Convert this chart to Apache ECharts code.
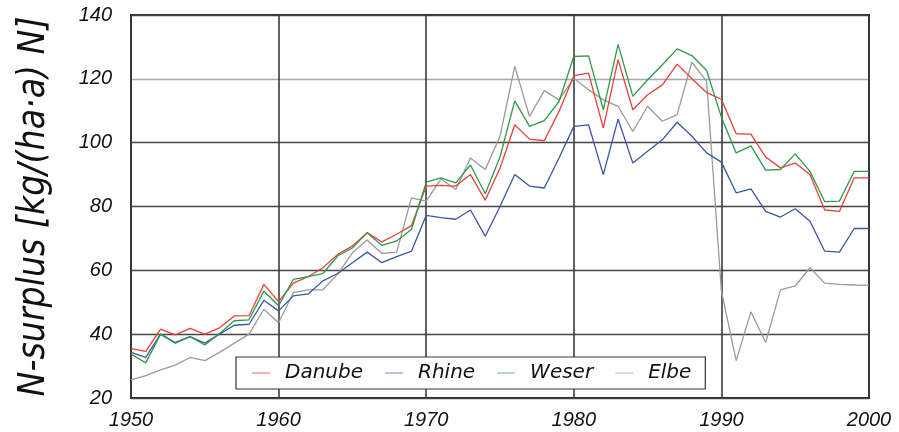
<!DOCTYPE html>
<html>
<head>
<meta charset="utf-8">
<script src="https://cdn.jsdelivr.net/npm/echarts@6/dist/echarts.min.js"></script>
<style>
html,body{margin:0;padding:0;background:#fff;}
#chart{width:899px;height:432px;}
</style>
</head>
<body>
<div id="chart"></div>
<script>
const years = [1950,1951,1952,1953,1954,1955,1956,1957,1958,1959,
  1960,1961,1962,1963,1964,1965,1966,1967,1968,1969,
  1970,1971,1972,1973,1974,1975,1976,1977,1978,1979,
  1980,1981,1982,1983,1984,1985,1986,1987,1988,1989,
  1990,1991,1992,1993,1994,1995,1996,1997,1998,1999,2000];

const danube = [35.5,34.6,41.6,39.8,41.8,40,42,45.7,45.8,55.6,
  50.2,56,58,60.8,65,67.6,71.8,68.9,71.3,74,
  86.4,86.6,86.4,90,82,92,105.6,101.1,100.6,109.8,
  121,121.8,104.6,126,110.3,115,118.1,124.6,120,115.7,
  113.6,102.8,102.7,95.5,92.1,93.6,90,78.9,78.5,89,89];

const rhine = [34.3,32.7,40,37.2,39.2,37.2,40,42.8,43.1,50.6,
  47.3,52,52.6,56.7,59,62.4,65.7,62.4,64.3,66,
  77.2,76.5,76,78.9,70.7,80,90,86.4,85.8,95.2,
  105.1,105.6,90,107.4,93.6,97.3,100.9,106.4,102,96.8,
  93.9,84.3,85.5,78.5,76.7,79.3,75.4,66,65.7,73.1,73.1];

const weser = [33.8,31,40,37.4,39.2,36.6,40.2,44.2,44.5,53.5,
  48.9,57.2,58,59,64.5,67,71.8,67.8,69.2,72.8,
  87.6,89,87.4,93,84,95.5,113.1,105.1,106.9,112.9,
  127,127.2,110.3,130.8,114.5,119.7,124.4,129.4,127.3,122.6,
  108,96.8,99,91.4,91.6,96.5,91,81.5,81.7,91,91];

const elbe = [25.7,27,28.8,30.3,32.7,31.7,34.3,37.2,40,47.8,
  43.6,53,53.9,53.9,58.8,65.5,69.5,65.3,65.7,82.7,
  81.7,88.6,85.3,95.2,91.6,102,123.9,108.2,116.3,113.4,
  120.2,116.6,113.4,111.4,103.5,111.4,106.7,108.8,125.2,119.2,
  53.5,31.7,47,37.4,53.9,55.1,60.8,56,55.6,55.4,55.3];

const seriesNames = ['Danube','Rhine','Weser','Elbe'];
const seriesColors = ['#e8413c','#3a56a5','#2e9a48','#9a9a9a'];
const legendColors = ['#f19a98','#a3afd6','#97cda3','#cfcfcf'];
const seriesData = [danube, rhine, weser, elbe];

const chart = echarts.init(document.getElementById('chart'), null, {renderer:'canvas'});
const labelFont = {fontFamily:'Liberation Sans, Arial, sans-serif', fontStyle:'italic', fontSize:20, color:'#111'};

chart.setOption({
  animation:false,
  backgroundColor:'#fff',
  grid:{left:131, right:30, top:15, bottom:34, show:true, borderColor:'#2a2a2a', borderWidth:2,
        backgroundColor:'transparent', containLabel:false, outerBoundsMode:'none'},
  xAxis:{
    type:'value', min:1950, max:2000, interval:10,
    axisLine:{show:false}, axisTick:{show:false},
    axisLabel:Object.assign({margin:12, formatter:(v)=>String(v)}, labelFont),
    splitLine:{show:true, lineStyle:{color:'#3c3c3c', width:1.6}}
  },
  yAxis:{
    type:'value', min:20, max:140, interval:20,
    axisLine:{show:false}, axisTick:{show:false},
    axisLabel:Object.assign({margin:19}, labelFont),
    splitLine:{show:true, lineStyle:{color:['#444','#444','#444','#444','#444','#a8a8a8','#444'], width:1.4}},
    name:'N-surplus [kg/(ha·a) N]',
    nameLocation:'middle', nameRotate:90, nameGap:78,
    nameTextStyle:{fontFamily:'DejaVu Sans Condensed', fontStyle:'italic', fontSize:37, color:'#111'}
  },
  legend:{
    left:236, top:357,
    orient:'horizontal',
    backgroundColor:'#fff', borderColor:'#333', borderWidth:1.2,
    padding:[6,14,6,16],
    itemGap:22, itemWidth:18, itemHeight:1.5, icon:'rect',
    textStyle:{fontFamily:'DejaVu Sans, sans-serif', fontStyle:'italic', fontSize:20, color:'#111', padding:[0,0,0,10]},
    data:seriesNames.map((n,i)=>({name:n, itemStyle:{color:legendColors[i]}}))
  },
  series:seriesNames.map((n,i)=>({
    name:n, type:'line', symbol:'none', smooth:false,
    data:years.map((y,j)=>[y, seriesData[i][j]]),
    lineStyle:{color:seriesColors[i], width:1.3},
    itemStyle:{color:seriesColors[i]},
    z: i===3 ? 1 : 2
  }))
});
</script>
</body>
</html>
